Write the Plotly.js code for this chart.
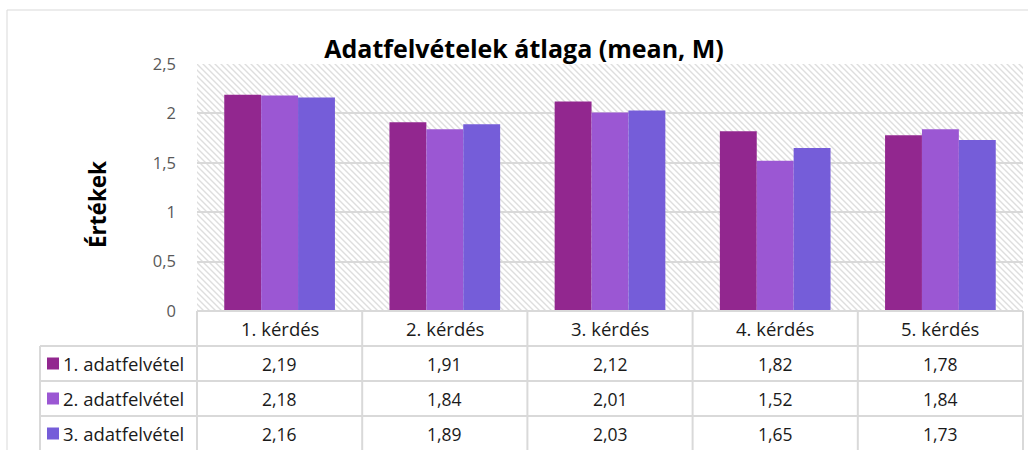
<!DOCTYPE html>
<html><head><meta charset="utf-8">
<script src="https://cdn.plot.ly/plotly-3.0.1.min.js"></script>
<style>html,body{margin:0;padding:0;background:#fff}</style>
</head><body><div id="chart" style="width:1028px;height:450px"></div>
<script>
const categories = ["1. kérdés", "2. kérdés", "3. kérdés", "4. kérdés", "5. kérdés"];
const seriesNames = ["1. adatfelvétel", "2. adatfelvétel", "3. adatfelvétel"];
const survey1 = [2.19, 1.91, 2.12, 1.82, 1.78];
const survey2 = [2.18, 1.84, 2.01, 1.52, 1.84];
const survey3 = [2.16, 1.89, 2.03, 1.65, 1.73];
const yTickVals = [0, 0.5, 1, 1.5, 2, 2.5];
const chartTitle = "Adatfelvételek átlaga (mean, M)";
const yTitle = "Értékek";

const seriesValues = [survey1, survey2, survey3];
const colors = ["#92278F", "#9B57D3", "#755DD9"];
const FONT = "'Open Sans', sans-serif";
const fmt = v => (Math.round(v * 100) / 100).toString().replace('.', ',');
const fmt2 = v => v.toFixed(2).replace('.', ',');

// pixel geometry helpers
const W = 1028, H = 450;
const mL = 197, mR = 5, mT = 64, mB = 139;
const pw = W - mL - mR, ph = H - mT - mB;
const plotBottom = H - mB;
const px = x => (x - mL) / pw;
const py = y => (plotBottom - y) / ph;

const traces = seriesValues.map((vals, i) => ({
  type: 'bar', x: categories, y: vals, name: seriesNames[i],
  marker: {color: colors[i], line: {width: 0}},
  hoverinfo: 'skip', showlegend: false
}));

const rowH = 35;
const tableTop = plotBottom;
const legendLeft = 40;
const colW = pw / categories.length;
const lineColor = '#d9d9d9';

const shapes = [];
// outer chart border
shapes.push({type: 'rect', xref: 'paper', yref: 'paper', x0: px(7), x1: px(1040), y0: py(10), y1: py(480),
  line: {color: lineColor, width: 1}, fillcolor: 'rgba(0,0,0,0)', layer: 'below'});
// horizontal table lines
shapes.push({type: 'line', xref: 'paper', yref: 'paper', x0: px(mL), x1: px(W - mR), y0: py(tableTop), y1: py(tableTop), line: {color: lineColor, width: 2}});
for (let r = 1; r <= seriesNames.length; r++) {
  const y = tableTop + r * rowH;
  shapes.push({type: 'line', xref: 'paper', yref: 'paper', x0: px(legendLeft), x1: px(W - mR), y0: py(y), y1: py(y), line: {color: lineColor, width: 2}});
}
// vertical table lines
for (let c = 0; c <= categories.length; c++) {
  const x = mL + c * colW;
  shapes.push({type: 'line', xref: 'paper', yref: 'paper', x0: px(x), x1: px(x), y0: py(tableTop), y1: py(H + 20), line: {color: lineColor, width: 2}});
}
shapes.push({type: 'line', xref: 'paper', yref: 'paper', x0: px(legendLeft), x1: px(legendLeft), y0: py(tableTop + rowH), y1: py(H + 20), line: {color: lineColor, width: 2}});

const annotations = [];
const labelFont = {family: FONT, size: 18.5, color: '#1a1a1a'};
const valueFont = {family: FONT, size: 17.5, color: '#1a1a1a'};
// header
categories.forEach(c => annotations.push({xref: 'x', yref: 'paper', x: c, y: py(tableTop + rowH / 2),
  text: c, showarrow: false, font: labelFont, xanchor: 'center', yanchor: 'middle'}));
// rows
seriesValues.forEach((vals, r) => {
  const yc = tableTop + (r + 1) * rowH + rowH / 2;
  vals.forEach((v, c) => annotations.push({xref: 'x', yref: 'paper', x: categories[c], y: py(yc),
    text: fmt2(v), showarrow: false, font: valueFont, xanchor: 'center', yanchor: 'middle'}));
  annotations.push({xref: 'paper', yref: 'paper', x: px(61), y: py(yc), text: seriesNames[r], showarrow: false,
    font: labelFont, xanchor: 'left', yanchor: 'middle'});
  shapes.push({type: 'rect', xref: 'paper', yref: 'paper', x0: px(47), x1: px(59), y0: py(yc - 6), y1: py(yc + 6),
    fillcolor: colors[r], line: {width: 0}});
});
// y title
annotations.push({xref: 'paper', yref: 'paper', x: px(97), y: py(205), text: '<b>' + yTitle + '</b>', textangle: -90,
  showarrow: false, font: {family: FONT, size: 22.5, color: '#000'}, xanchor: 'center', yanchor: 'middle'});

const svg = "<svg xmlns='http://www.w3.org/2000/svg' width='" + pw + "' height='" + ph + "'>" +
  "<defs><pattern id='p' width='6' height='6' patternUnits='userSpaceOnUse'>" +
  "<path d='M-1,-1 L7,7 M-1,5 L1,7 M5,-1 L7,1' stroke='#dedede' stroke-width='1.4'/></pattern></defs>" +
  "<rect width='100%' height='100%' fill='url(#p)'/></svg>";

const layout = {
  width: W, height: H,
  margin: {l: mL, r: mR, t: mT, b: mB, pad: 0},
  paper_bgcolor: '#fff', plot_bgcolor: 'rgba(0,0,0,0)',
  separators: ',.',
  font: {family: FONT},
  title: {text: '<b>' + chartTitle + '</b>', font: {family: FONT, size: 25, color: '#000'},
    xref: 'container', x: 524 / W, xanchor: 'center', yref: 'container', y: 1 - 49 / H, yanchor: 'middle'},
  barmode: 'group', bargap: 0.33, bargroupgap: 0,
  xaxis: {type: 'category', range: [-0.5, categories.length - 0.5], showticklabels: false, showgrid: false,
    zeroline: false, showline: false, fixedrange: true},
  yaxis: {range: [0, 2.5], tickvals: yTickVals, ticktext: yTickVals.map(fmt), showgrid: true,
    gridcolor: lineColor, gridwidth: 2, zeroline: false, showline: false, ticks: '',
    ticklabelstandoff: 20, tickfont: {family: FONT, size: 16.5, color: '#595959'}, fixedrange: true},
  images: [{source: 'data:image/svg+xml;charset=utf-8,' + encodeURIComponent(svg), xref: 'paper', yref: 'paper',
    x: 0, y: 1, sizex: 1, sizey: 1, sizing: 'stretch', xanchor: 'left', yanchor: 'top', layer: 'below'}],
  shapes: shapes, annotations: annotations, showlegend: false
};
Plotly.newPlot('chart', traces, layout, {displayModeBar: false, staticPlot: true});
</script></body></html>
